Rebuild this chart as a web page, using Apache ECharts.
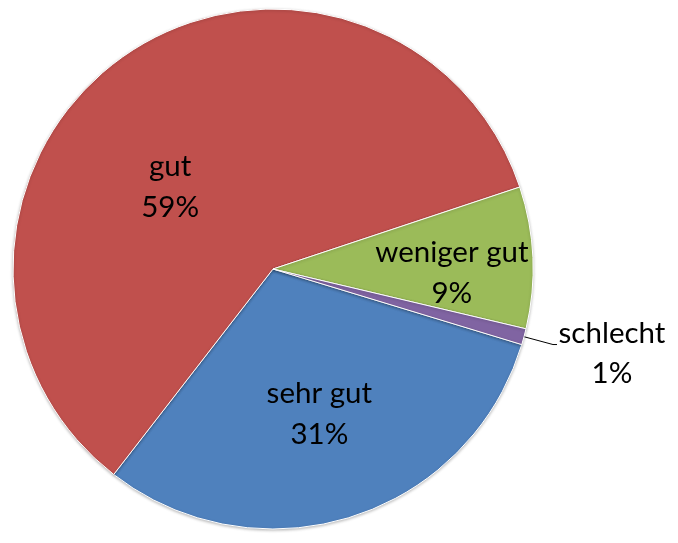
<!DOCTYPE html>
<html>
<head>
<meta charset="utf-8">
<script src="https://cdn.jsdelivr.net/npm/echarts@6/dist/echarts.min.js"></script>
<style>
html,body{margin:0;padding:0;background:#fff;}
#chart{width:678px;height:543px;}
</style>
</head>
<body>
<div id="chart"></div>
<script>
const categories = ['sehr gut', 'gut', 'weniger gut', 'schlecht'];
const values = [30.8, 59.4, 8.8, 1.0];
const colors = ['#4F81BD', '#C0504D', '#9BBB59', '#8064A2'];
const labelShift = [[6, 18], [-26, 27], [46, 10], [0, 0]];

const fmt = function (p) { return p.name + '\n' + Math.round(p.percent) + '%'; };
const chart = echarts.init(document.getElementById('chart'));
const data = categories.map((name, i) => {
  const item = { name: name, value: values[i], itemStyle: { color: colors[i] } };
  if (name === 'schlecht') {
    item.label = {
      position: 'outside',
      formatter: function (p) { return '{a|' + p.name + '}\n{a|' + Math.round(p.percent) + '%}'; },
      padding: [18, 0, 0, 0],
      distanceToLabelLine: 1,
      rich: { a: { width: 108, align: 'center', fontSize: 29.5, lineHeight: 40, fontFamily: 'Lato', color: '#000' } }
    };
    item.labelLine = { show: true, length: 30, length2: 4, lineStyle: { color: '#000', width: 1 } };
  }
  return item;
});

chart.setOption({
  animation: false,
  backgroundColor: '#fff',
  series: [{
    type: 'pie',
    center: [273, 269],
    radius: [0, 260],
    startAngle: -16.9,
    clockwise: true,
    avoidLabelOverlap: false,
    data: data,
    itemStyle: { borderColor: '#fff', borderWidth: 1, shadowBlur: 3, shadowColor: 'rgba(0,0,0,0.25)', shadowOffsetY: 1 },
    label: {
      show: true,
      position: 'inside',
      formatter: fmt,
      fontFamily: 'Lato',
      fontSize: 29.5,
      lineHeight: 41,
      color: '#000'
    },
    labelLine: { show: false },
    labelLayout: function (p) {
      const s = labelShift[p.dataIndex];
      if (p.dataIndex === 3) return {};
      return { dx: s[0], dy: s[1] };
    }
  }]
});
</script>
</body>
</html>
